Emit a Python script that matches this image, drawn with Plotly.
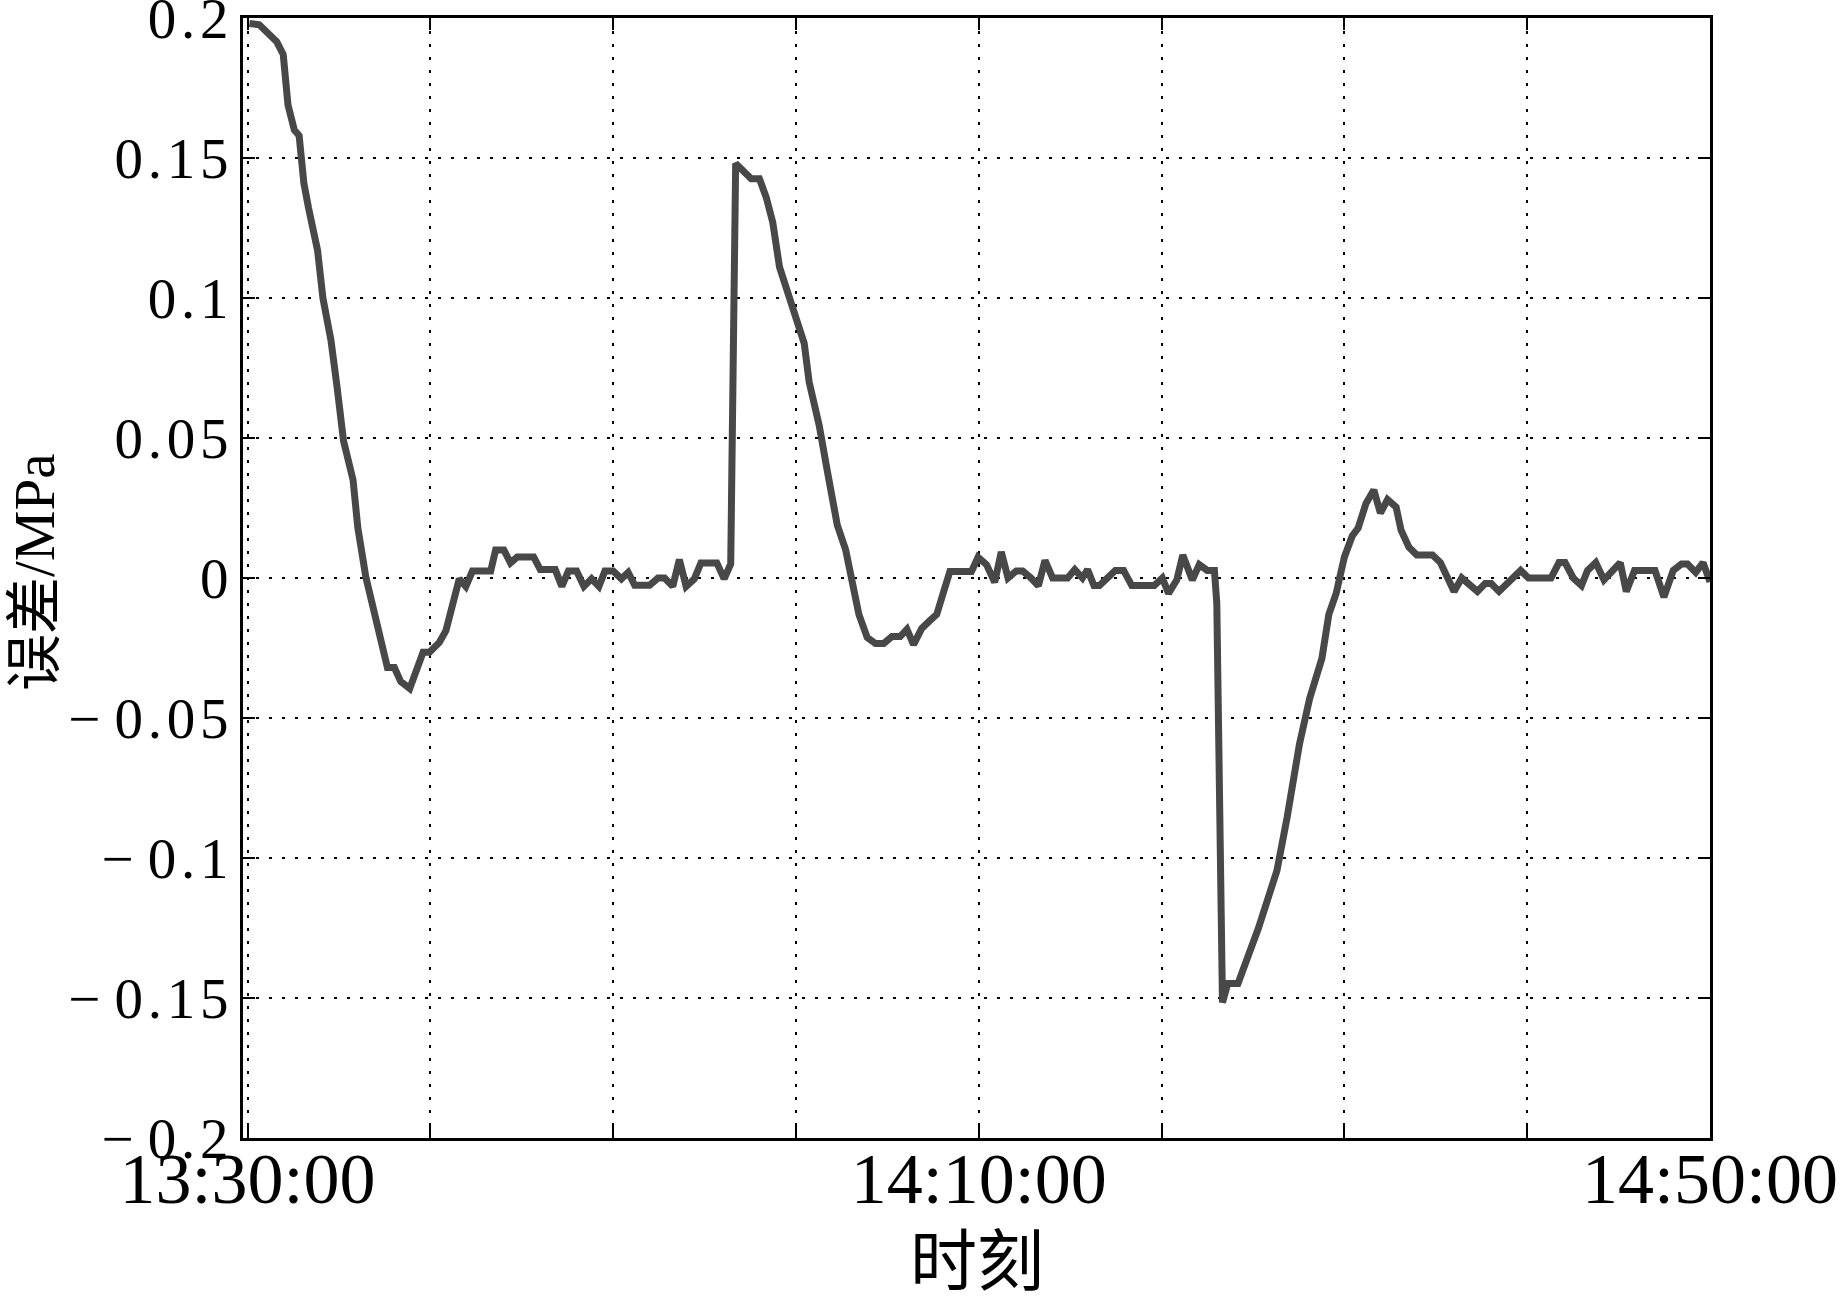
import pandas as pd
import plotly.graph_objects as go

# ---- data (minutes after 13:30:00, error in MPa) ----
minutes = [
    0.1, 0.64, 1.6, 1.95, 2.21, 2.56, 2.82, 3.08, 3.34, 3.83, 4.12, 4.56, 4.9, 5.25,
    5.77, 6.03, 6.47, 6.82, 7.25, 7.65, 8.03, 8.38, 8.87, 9.17, 9.6, 9.95,
    10.49, 10.85, 11.21, 11.58, 11.94, 12.3, 12.84, 13.3, 13.57, 14.02, 14.38, 14.75,
    15.65, 16.01, 16.83, 17.19, 17.55, 18.0, 18.4, 18.82, 19.22, 19.55, 20.0, 20.45,
    20.82, 21.18, 21.99, 22.45, 22.81, 23.26, 23.62, 23.99, 24.44, 24.8, 25.67, 26.07,
    26.43, 26.7,
    27.55, 28.0, 28.37, 28.73, 29.1, 29.64, 30.0, 30.45, 30.72, 31.27, 31.72, 32.26,
    32.72, 33.08, 33.44, 33.9, 34.35, 34.8, 35.25, 35.7, 36.07, 36.43, 36.88, 37.28,
    37.7, 38.06, 38.42, 39.6, 39.96, 40.42, 40.87, 41.23, 41.6, 42.05, 42.4, 42.86,
    43.26, 43.62, 44.04, 44.86, 45.25, 45.67, 45.95, 46.3, 46.6, 47.47, 47.92, 48.37,
    49.6, 50.04, 50.38, 50.83, 51.16, 51.68, 52.06, 52.5, 52.89, 53.02, 53.11, 53.24,
    53.33, 53.62, 54.18, 55.3, 56.31, 56.87, 57.54, 58.1, 58.77, 59.15, 59.55, 60.0,
    60.43, 60.75, 61.18, 61.61, 61.97, 62.36, 62.83, 63.1, 63.53, 63.96, 64.82, 65.25,
    66.0, 66.42, 67.28, 67.7, 68.03, 68.46, 69.64, 70.07, 71.3, 71.74, 72.07, 72.52,
    72.97, 73.3, 73.75, 74.2, 75.09, 75.42, 75.87, 76.99, 77.48, 77.99, 78.44, 78.77,
    79.22, 79.62, 80.0,
]
error_mpa = [
    0.198, 0.1976, 0.1915, 0.187, 0.169, 0.160, 0.158, 0.141, 0.132, 0.117, 0.100, 0.085,
    0.068, 0.049, 0.035, 0.018, 0.0003, -0.010, -0.022, -0.032, -0.032, -0.037, -0.0395,
    -0.0335, -0.0265, -0.0265,
    -0.023, -0.0188, -0.009, -0.0003, -0.003, 0.0025, 0.0025, 0.0025, 0.010, 0.010,
    0.0054, 0.0075, 0.0075, 0.003, 0.003, -0.003, 0.0025, 0.0025, -0.003, -0.0003,
    -0.003, 0.0025, 0.0025, -0.0003, 0.002, -0.0026, -0.0026, 0.0, 0.0, -0.003, 0.0066,
    -0.003, -0.0003, 0.0054, 0.0054, -0.0003, 0.005, 0.148,
    0.1426, 0.1426, 0.136, 0.127, 0.111, 0.100, 0.0927, 0.0838, 0.070, 0.0545, 0.038,
    0.0189, 0.010, -0.0028, -0.013, -0.0213, -0.0234, -0.0234, -0.0209, -0.0209,
    -0.0183, -0.0238, -0.018, -0.0155, -0.013, -0.0053, 0.0023, 0.0023, 0.0074, 0.0048,
    -0.0015, 0.0093, 0.0, 0.0025, 0.0025, 0.0, -0.0028, 0.0063, 0.0, 0.0, 0.003, 0.0,
    0.003, -0.0027, -0.0027, 0.0027, 0.0027, -0.0027, -0.0027, 0.0, -0.0055, -0.0007,
    0.0082, -0.0007, 0.0048, 0.0027, 0.0027, -0.009, -0.05, -0.1045, -0.1516, -0.1448,
    -0.1448, -0.125, -0.1045, -0.0854, -0.0594, -0.043, -0.0287, -0.013, -0.0055,
    0.0075, 0.015, 0.0178, 0.0266, 0.0314, 0.0232, 0.028, 0.0253, 0.0171, 0.011,
    0.0082, 0.0082, 0.0055, -0.0048, 0.0, -0.0048, -0.002, -0.002, -0.0048, 0.0027,
    0.0, 0.0, 0.0055, 0.0055, 0.0, -0.0027, 0.0027, 0.0055, -0.0007, 0.0055, -0.0048,
    0.0027, 0.0027, -0.0068, 0.0027, 0.005, 0.005, 0.002, 0.0055, -0.0014,
]

start_time = "2000-01-01 13:30:00"
axis_start = "2000-01-01 13:29:45"
axis_end = "2000-01-01 14:50:00"
grid_times = ["13:30:00", "13:40:00", "13:50:00", "14:00:00", "14:10:00",
              "14:20:00", "14:30:00", "14:40:00", "14:50:00"]
x_tick_labels = ["13:30:00", "", "", "", "14:10:00", "", "", "", "14:50:00"]
y_tick_values = [-0.2, -0.15, -0.1, -0.05, 0, 0.05, 0.1, 0.15, 0.2]
y_tick_labels = ["\u2212 0.2", "\u2212 0.15", "\u2212 0.1", "\u2212 0.05", "0",
                 "0.05", "0.1", "0.15", "0.2"]

base = pd.Timestamp(start_time)
x_time = base + pd.to_timedelta(minutes, unit="min")
x_ticks = ["2000-01-01 " + t for t in grid_times]

SERIF = "Liberation Serif, Times New Roman, Noto Sans CJK SC, serif"
HS = "\u200a"  # hair space to mimic the wide letter spacing of the y labels
y_tick_text = [HS.join(list(s)) if not s.startswith("\u2212") else
               "\u2212 " + HS.join(list(s[2:])) for s in y_tick_labels]

fig = go.Figure()
fig.add_trace(go.Scatter(
    x=x_time, y=error_mpa, mode="lines",
    line=dict(color="#484848", width=7),
    showlegend=False,
))

fig.update_layout(
    width=1843, height=1300,
    margin=dict(l=243, r=133, t=18, b=162),
    paper_bgcolor="white", plot_bgcolor="white",
    font=dict(family=SERIF, color="black"),
)

fig.update_xaxes(
    type="date", automargin=False,
    range=[axis_start, axis_end],
    tickmode="array", tickvals=x_ticks, ticktext=x_tick_labels,
    tickfont=dict(family=SERIF, size=72, color="black"),
    ticks="inside", ticklen=12, tickwidth=1.5, tickcolor="black",
    ticklabelstandoff=-24, ticklabeloverflow="allow",
    showline=True, linecolor="black", linewidth=3, mirror="ticks",
    showgrid=True, gridcolor="black", gridwidth=2, griddash="3px,10px",
    zeroline=False,
)
fig.update_yaxes(
    automargin=False,
    range=[-0.2, 0.2],
    tickmode="array", tickvals=y_tick_values, ticktext=y_tick_text,
    tickfont=dict(family=SERIF, size=57, color="black"),
    ticks="inside", ticklen=12, tickwidth=2, tickcolor="black",
    ticklabeloverflow="allow",
    showline=True, linecolor="black", linewidth=3, mirror="ticks",
    showgrid=True, gridcolor="black", gridwidth=2, griddash="3px,10px",
    zeroline=False,
)

fig.add_annotation(
    text="误差/MPa", xref="paper", yref="paper",
    x=-0.142, y=0.505, xanchor="center", yanchor="middle",
    textangle=-90, showarrow=False,
    font=dict(family=SERIF, size=57, color="black"),
)
fig.add_annotation(
    text="时刻", xref="paper", yref="paper",
    x=0.5, y=-0.111, xanchor="center", yanchor="middle",
    showarrow=False,
    font=dict(family=SERIF, size=67, color="black"),
)

fig.write_html("out.html", config={"displayModeBar": False},
               post_script="document.body.style.margin='0';")
